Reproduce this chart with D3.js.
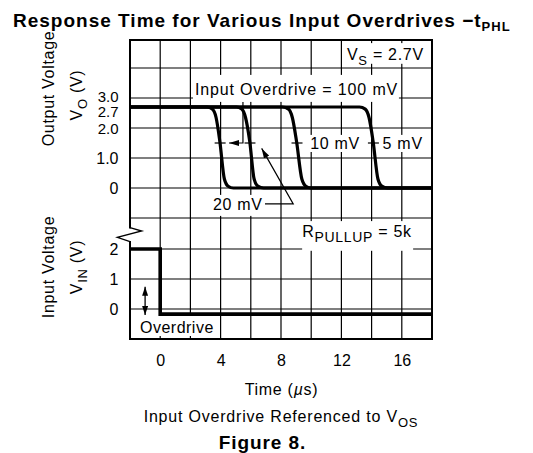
<!DOCTYPE html>
<html><head><meta charset="utf-8">
<script src="https://cdn.jsdelivr.net/npm/d3@7"></script>
<style>
body{margin:0;background:#fff;}
svg{display:block;}
text{font-family:"Liberation Sans",Arial,Helvetica,sans-serif;fill:#000;}
</style></head><body>
<svg id="chart" width="533" height="453"></svg>
<script>
// ---------------- data ----------------
const timeTicks = [0, 4, 8, 12, 16];
const outTicks = [0, 1, 2, 2.7, 3];
const outTickLabels = ["0", "1.0", "2.0", "2.7", "3.0"];
const inTicks = [0, 1, 2];
const inTickLabels = ["0", "1", "2"];

// output voltage vs time (µs) for each overdrive
const t100 = [-2, 3.1, 3.45, 3.7, 3.95, 4.25, 4.5, 4.85, 18];
const v100 = [2.7, 2.7, 2.63, 2.35, 1.55, 0.3, 0.06, 0, 0];
const t20 = [-2, 5.05, 5.4, 5.65, 5.93, 6.22, 6.47, 6.85, 18];
const v20 = [2.7, 2.7, 2.63, 2.35, 1.55, 0.3, 0.06, 0, 0];
const t10 = [-2, 8.1, 8.5, 8.75, 9.03, 9.38, 9.65, 10.0, 18];
const v10 = [2.7, 2.7, 2.63, 2.35, 1.55, 0.3, 0.06, 0, 0];
const t5 = [-2, 13.2, 13.58, 13.83, 14.1, 14.42, 14.68, 15.05, 18];
const v5 = [2.7, 2.7, 2.63, 2.35, 1.55, 0.3, 0.06, 0, 0];
// 50% crossing times (marked with short ticks)
const midCross = [3.97, 5.95, 9.06, 14.12];

// input voltage
const inputT = [-2, 0, 0, 18];
const inputV = [2, 2, -0.17, -0.17];

// ---------------- drawing ----------------
const svg = d3.select("#chart");
const L = 130, R = 432, T = 40, B = 339;
const x = d3.scaleLinear().domain([-2, 18]).range([L, R]);
const yO = d3.scaleLinear().domain([0, 4]).range([188, 68]);
const yI = d3.scaleLinear().domain([0, 2]).range([309, 249]);

const defs = svg.append("defs");
defs.append("marker").attr("id", "ah").attr("viewBox", "0 0 10 6")
  .attr("refX", 10).attr("refY", 3).attr("markerWidth", 10).attr("markerHeight", 6)
  .attr("markerUnits", "userSpaceOnUse").attr("orient", "auto-start-reverse")
  .append("path").attr("d", "M0,0L10,3L0,6Z").attr("fill", "#000");
defs.append("marker").attr("id", "ah2").attr("viewBox", "0 0 9 6")
  .attr("refX", 9).attr("refY", 3).attr("markerWidth", 9).attr("markerHeight", 6)
  .attr("markerUnits", "userSpaceOnUse").attr("orient", "auto-start-reverse")
  .append("path").attr("d", "M0,0L9,3L0,6Z").attr("fill", "#000");

const grid = svg.append("g").attr("stroke", "#000").attr("stroke-width", 1.2);
grid.selectAll(".vg").data(d3.range(0, 18, 2)).join("line")
  .attr("x1", d => x(d)).attr("x2", d => x(d)).attr("y1", T).attr("y2", B);
grid.selectAll(".ho").data([-1, 0, 1, 2, 3, 4]).join("line")
  .attr("x1", L).attr("x2", R).attr("y1", d => yO(d)).attr("y2", d => yO(d));
grid.selectAll(".hi").data([0, 1, 2]).join("line")
  .attr("x1", L).attr("x2", R).attr("y1", d => yI(d)).attr("y2", d => yI(d));

// white label boxes (data-space extents)
function box(t0, t1, y0, y1) {
  svg.append("rect").attr("x", x(t0)).attr("y", Math.min(y0, y1))
    .attr("width", x(t1) - x(t0)).attr("height", Math.abs(y1 - y0)).attr("fill", "#fff");
}
box(2.17, 15.81, yO(3.77), yO(2.87));
box(12.1, 17.75, yO(4.83), yO(4.14));
box(9.68, 13.1, yO(1.77), yO(1.2));
box(14.55, 17.4, yO(1.77), yO(1.2));
box(3.1, 6.94, yO(-0.23), yO(-0.93));
box(9.4, 16.75, yI(2.93), yI(1.94));
box(-1.79, 3.77, yI(-0.23), yI(-0.9));

// frame
svg.append("rect").attr("x", L).attr("y", T).attr("width", R - L).attr("height", B - T)
  .attr("fill", "none").attr("stroke", "#000").attr("stroke-width", 2);
// axis break
svg.append("rect").attr("x", L - 3).attr("y", 228.5).attr("width", 6).attr("height", 12.5).attr("fill", "#fff");
svg.append("path").attr("d", `M${L},227.7L141.7,231L117.3,237.3L${L},241.7`)
  .attr("fill", "none").attr("stroke", "#000").attr("stroke-width", 1.3);

// curves
const lineO = d3.line().x(d => x(d[0])).y(d => yO(d[1])).curve(d3.curveMonotoneX);
[[t5, v5], [t10, v10], [t20, v20], [t100, v100]].forEach(([ts, vs]) => {
  svg.append("path").attr("d", lineO(ts.map((t, i) => [t, vs[i]])))
    .attr("fill", "none").attr("stroke", "#000").attr("stroke-width", 3.2)
    .attr("stroke-linejoin", "round");
});
const lineI = d3.line().x(d => x(d[0])).y(d => yI(d[1]));
svg.append("path").attr("d", lineI(inputT.map((t, i) => [t, inputV[i]])))
  .attr("fill", "none").attr("stroke", "#000").attr("stroke-width", 3.6);

// 50% ticks
svg.selectAll(".mt").data(midCross).join("line")
  .attr("x1", d => x(d) - 5.5).attr("x2", d => x(d) + 5.5)
  .attr("y1", yO(1.5)).attr("y2", yO(1.5)).attr("stroke", "#000").attr("stroke-width", 1.2);

// pointers
svg.append("path").attr("d", `M${x(5.48)},${yO(2.87)}V${yO(1.5)}H${x(4.56)}`)
  .attr("fill", "none").attr("stroke", "#000").attr("stroke-width", 1.2).attr("marker-end", "url(#ah)");
svg.append("path").attr("d", `M${x(6.94)},${yO(-0.53)}H${x(8.81)}L${x(6.72)},${yO(1.32)}`)
  .attr("fill", "none").attr("stroke", "#000").attr("stroke-width", 1.2).attr("marker-end", "url(#ah)");
svg.append("path").attr("d", `M${x(-1)},${yI(0.74)}V${yI(-0.2)}`)
  .attr("fill", "none").attr("stroke", "#000").attr("stroke-width", 1.3)
  .attr("marker-start", "url(#ah2)").attr("marker-end", "url(#ah2)");

// labels
function label(px, py, parts, opts = {}) {
  const t = svg.append("text").attr("x", px).attr("y", py)
    .attr("font-size", opts.size || 16).attr("letter-spacing", opts.ls || "0.7px")
    .attr("text-anchor", opts.anchor || "start");
  if (opts.transform) t.attr("transform", opts.transform).attr("x", 0).attr("y", 0);
  let down = 0;
  parts.forEach(p => {
    const s = t.append("tspan").text(p.t);
    if (p.sub) { s.attr("dy", p.dy || 5).attr("font-size", p.fs || 13); down = p.dy || 5; }
    else if (down) { s.attr("dy", -down); down = 0; }
    if (p.italic) s.attr("font-style", "italic");
  });
  return t;
}
label(x(2.3), yO(3.1), [{t: "Input Overdrive = 100 mV"}], {ls: "0.85px"});
label(x(12.37), yO(4.27), [{t: "V"}, {t: "S", sub: true, dy: 5.5}, {t: " = 2.7V"}]);
label(x(9.93), yO(1.3), [{t: "10 mV"}]);
label(x(14.73), yO(1.3), [{t: "5 mV"}]);
label(x(3.49), yO(-0.73), [{t: "20 mV"}]);
label(x(9.4), yI(2.4), [{t: "R"}, {t: "PULLUP", sub: true, dy: 5, fs: 14}, {t: "  =  5k"}]);
label(x(-1.34), yI(-0.81), [{t: "Overdrive"}], {ls: "0.5px"});

// axes
const axO = svg.append("g").attr("transform", `translate(${L},0)`)
  .call(d3.axisLeft(yO).tickValues(outTicks).tickFormat((d, i) => outTickLabels[i]).tickSize(0).tickPadding(11.5));
const axI = svg.append("g").attr("transform", `translate(${L},0)`)
  .call(d3.axisLeft(yI).tickValues(inTicks).tickFormat((d, i) => inTickLabels[i]).tickSize(0).tickPadding(11.5));
const axX = svg.append("g").attr("transform", `translate(0,${B})`)
  .call(d3.axisBottom(x).tickValues(timeTicks).tickSize(0).tickPadding(16));
[axO, axI, axX].forEach(a => {
  a.select(".domain").remove();
  a.selectAll("text").attr("font-size", 16).attr("font-family", '"Liberation Sans",Arial,sans-serif').attr("fill", "#000");
});
axO.selectAll("text").filter(d => d === 3 || d === 2.7 || d === 2).attr("font-size", 15);
axO.selectAll("text").filter(d => d === 3).attr("dy", "0.22em");
axO.selectAll("text").filter(d => d === 2.7).attr("dy", "0.66em");
axO.selectAll("text").filter(d => d === 2).attr("dy", "0.38em");

// axis titles
label(0, 0, [{t: "Output Voltage"}], {anchor: "middle", transform: "translate(54,88.5) rotate(-90)"});
label(0, 0, [{t: "V"}, {t: "O", sub: true, dy: 5}, {t: " (V)"}], {anchor: "middle", transform: "translate(82,95) rotate(-90)"});
label(0, 0, [{t: "Input Voltage"}], {anchor: "middle", transform: "translate(54,267) rotate(-90)"});
label(0, 0, [{t: "V"}, {t: "IN", sub: true, dy: 5}, {t: " (V)"}], {anchor: "middle", transform: "translate(82,267) rotate(-90)"});

label(281.5, 395, [{t: "Time ("}, {t: "µ", italic: true}, {t: "s)"}], {anchor: "middle"});
label(281, 421.5, [{t: "Input Overdrive Referenced to V"}, {t: "OS", sub: true, dy: 5}], {anchor: "middle", ls: "0.8px"});

// title & caption
const title = svg.append("text").attr("x", 13).attr("y", 27).attr("font-size", 19)
  .attr("font-weight", "bold").attr("letter-spacing", "1px");
title.append("tspan").text("Response Time for Various Input Overdrives −t");
title.append("tspan").text("PHL").attr("font-size", 13).attr("dy", 4);
svg.append("text").attr("x", 262.5).attr("y", 449).attr("font-size", 19)
  .attr("font-weight", "bold").attr("text-anchor", "middle").attr("letter-spacing", "0.9px").text("Figure 8.");
</script>
</body></html>
